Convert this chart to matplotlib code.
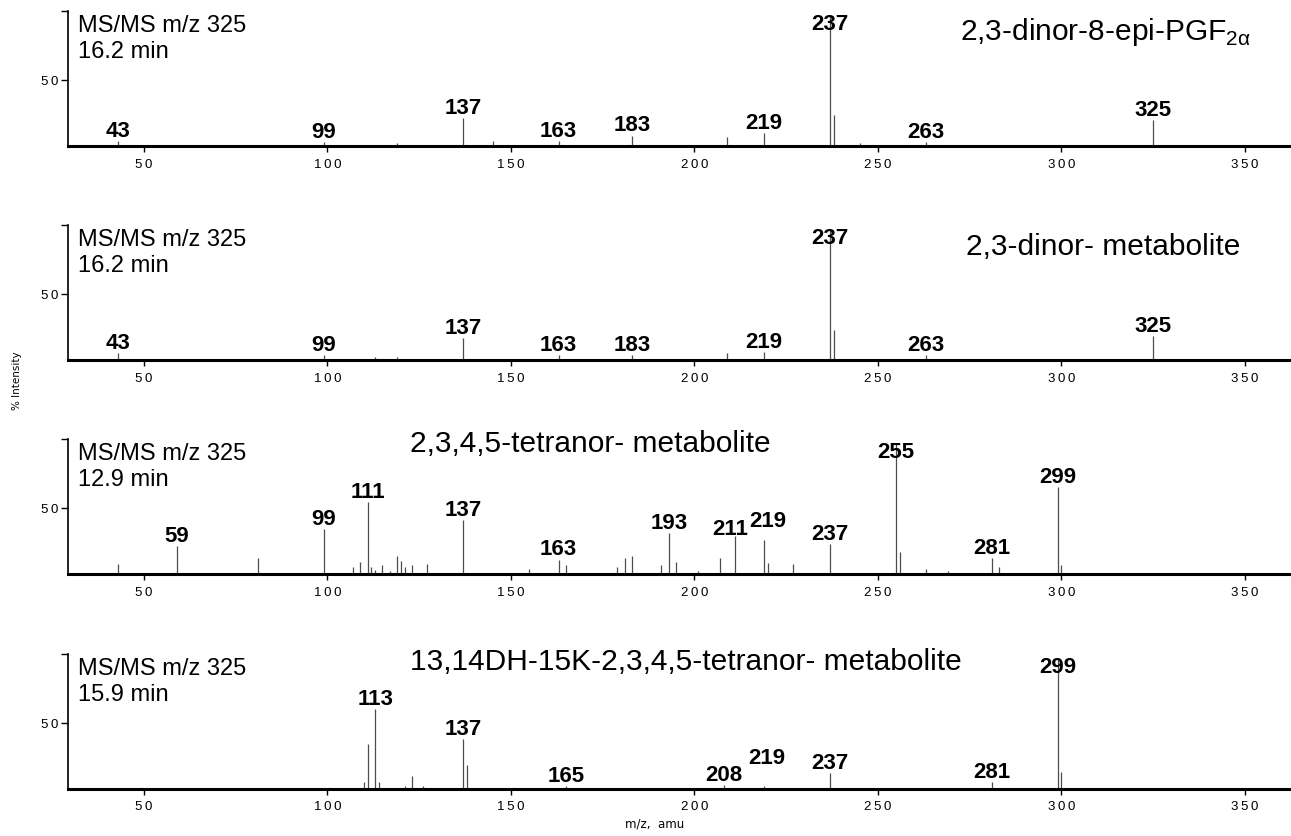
import matplotlib.pyplot as plt

plt.rcParams['font.family'] = ['Liberation Sans', 'DejaVu Sans']
plt.rcParams['mathtext.fontset'] = 'custom'
plt.rcParams['mathtext.rm'] = 'Liberation Sans'

# m/z window shared by all four product-ion spectra
mz_lo, mz_hi = 29.3, 362.3
mz_ticks = [50, 100, 150, 200, 250, 300, 350]

# 2,3-dinor-8-epi-PGF2a standard, 16.2 min
epi_mz = [43, 99, 119, 137, 145, 163, 183, 209, 219, 220, 237, 238, 245, 263, 325]
epi_int = [4, 3, 2.5, 21, 4, 4, 8, 7, 10, 1, 100, 24, 2, 3, 20]
epi_lab = [43, 99, 137, 163, 183, 219, 237, 263, 325]

# 2,3-dinor metabolite, 16.2 min
dinor_mz = [43, 99, 113, 119, 137, 163, 183, 209, 219, 237, 238, 263, 325]
dinor_int = [5, 3.5, 2, 2.5, 17, 4, 4, 5.5, 6, 100, 23, 4, 18]
dinor_lab = [43, 99, 137, 163, 183, 219, 237, 263, 325]

# 2,3,4,5-tetranor metabolite, 12.9 min
tetra_mz = [43, 59, 81, 99, 107, 109, 111, 112, 113, 115, 117, 119, 120, 121,
            123, 127, 137, 155, 163, 165, 179, 181, 183, 191, 193, 195, 201,
            207, 211, 219, 220, 227, 237, 255, 256, 263, 269, 281, 283, 299, 300]
tetra_int = [8, 21, 12, 34, 5, 9, 55, 5, 3, 7, 2, 14, 10, 5,
             7, 8, 41, 4, 11, 7, 5, 12, 14, 7, 31, 9.5, 2,
             12, 29, 26, 8.5, 7.5, 23, 100, 17, 4, 2, 12, 5, 66, 7]
tetra_lab = [59, 99, 111, 137, 163, 193, 211, 219, 237, 255, 281, 299]

# 13,14-dihydro-15-keto-2,3,4,5-tetranor metabolite, 15.9 min
dhk_mz = [110, 111, 113, 114, 121, 123, 126, 137, 138, 165, 208, 219, 237, 281, 299, 300]
dhk_int = [5, 34, 61, 5, 2, 10, 2, 38, 18, 2, 3, 2.5, 12, 5, 100, 13]
dhk_lab = [113, 137, 165, 208, 219, 237, 281, 299]

ret_times = ['16.2 min', '16.2 min', '12.9 min', '15.9 min']
names = ['2,3-dinor-8-epi-PGF$_{\\mathregular{2α}}$',
         '2,3-dinor- metabolite',
         '2,3,4,5-tetranor- metabolite',
         '13,14DH-15K-2,3,4,5-tetranor- metabolite']

spectra = [(epi_mz, epi_int, epi_lab),
           (dinor_mz, dinor_int, dinor_lab),
           (tetra_mz, tetra_int, tetra_lab),
           (dhk_mz, dhk_int, dhk_lab)]

# placement of compound names (axes fraction) and label nudges (points)
name_pos = [(0.968, 0.785, 'right'), (0.959, 0.778, 'right'),
            (0.280, 0.900, 'left'), (0.280, 0.885, 'left')]
nudge = {(2, 211): (-3, -2), (2, 219): (3, 6), (3, 219): (2, 13)}

W, H = 1291, 836
base_px = [146, 360, 574, 789]
ax_h = 135


def spaced(n):
    return '\u2009'.join(str(n))


fig = plt.figure(figsize=(W / 100, H / 100), dpi=100)

for i, (mz, inten, labels) in enumerate(spectra):
    ax = fig.add_axes([68 / W, 1 - base_px[i] / H, 1222 / W, ax_h / H])
    ax.vlines(mz, 0, inten, color='0.3', lw=0.9)
    ax.set_xlim(mz_lo, mz_hi)
    ax.set_ylim(0, 103)

    ax.spines['top'].set_visible(False)
    ax.spines['right'].set_visible(False)
    ax.spines['bottom'].set_linewidth(2.2)
    ax.spines['left'].set_linewidth(1.2)

    ax.set_xticks(mz_ticks)
    ax.set_xticklabels([spaced(t) for t in mz_ticks])
    ax.set_yticks([50, 103])
    ax.set_yticklabels([spaced(50), ''])
    ax.tick_params(axis='x', length=4, width=1, pad=5, labelsize=9.5)
    ax.tick_params(axis='y', length=5, width=1, pad=2, labelsize=9.5)

    # peak annotations
    for m in labels:
        y = inten[mz.index(m)]
        dx, dy = nudge.get((i, m), (0, 0))
        if y >= 90:
            ax.annotate(str(m), (m, y), xytext=(dx, 1 + dy), textcoords='offset points',
                        ha='center', va='top', fontsize=16, fontweight='bold')
        else:
            ax.annotate(str(m), (m, y), xytext=(dx, 3 + dy), textcoords='offset points',
                        ha='center', va='baseline', fontsize=16, fontweight='bold')

    ax.text(0.0082, 0.844, 'MS/MS m/z 325', transform=ax.transAxes,
            fontsize=17, va='baseline', ha='left')
    ax.text(0.0082, 0.652, ret_times[i], transform=ax.transAxes,
            fontsize=17, va='baseline', ha='left')

    nx, ny, nha = name_pos[i]
    ax.text(nx, ny, names[i], transform=ax.transAxes,
            fontsize=21.5, va='baseline', ha=nha)

fig.text(17 / W, 1 - 381 / H, '% Intensity', rotation=90,
         ha='center', va='center', fontsize=7.5, family='DejaVu Sans')
fig.text(655 / W, 1 - 824 / H, 'm/z,  amu', ha='center', va='center',
         fontsize=8.5, family='DejaVu Sans')

fig.savefig('out.png', dpi=100)
